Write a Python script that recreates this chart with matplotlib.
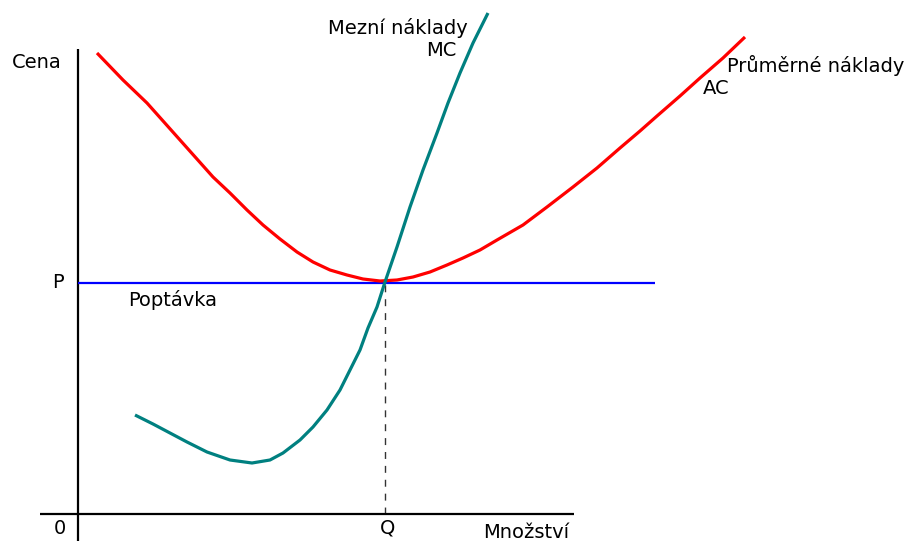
import matplotlib
matplotlib.use("Agg")
import matplotlib.pyplot as plt

# quantity / price (origin at the axis corner)
ac_q = [19, 45, 69, 102, 135, 152, 169, 185, 202, 219, 235, 252, 269, 285, 302, 319, 335, 352,
        369, 385, 402, 419, 445, 469, 495, 519, 542, 562, 579, 602, 622, 645, 667]
ac_p = [461, 434, 411, 374, 337, 321, 304, 289, 275, 262, 252, 244, 239, 235, 233, 234, 237, 242,
        249, 256, 264, 274, 289, 307, 327, 346, 366, 383, 398, 418, 436, 456, 477]

mc_q = [57, 75, 92, 109, 129, 152, 174, 192, 205, 222, 235, 249, 262, 272, 282, 290, 299,
        307, 319, 332, 345, 359, 370, 382, 395, 410]
mc_p = [99, 90, 81, 72, 62, 54, 51, 54, 61, 74, 87, 104, 124, 144, 164, 186, 207,
        232, 267, 307, 344, 381, 411, 441, 471, 501]

P = 231
Q = 307
demand_end = 577

plt.rcParams['font.family'] = ['DejaVu Sans']
fig = plt.figure(figsize=(9.18, 5.41), dpi=100)
ax = fig.add_axes([0, 0, 1, 1])
ax.set_xlim(-78, 840)
ax.set_ylim(-27, 514)
ax.axis('off')

# axes
ax.vlines(0, -27, 465, color='black', lw=1.6)
ax.hlines(0, -38, 496, color='black', lw=1.6)

# demand (price line) and dashed Q line
ax.hlines(P, 0, demand_end, color='#0000ff', lw=1.6, zorder=2)
ax.vlines(Q, 0, P, color='#333333', lw=1, linestyles=(0, (5, 5)), zorder=1)

# cost curves
ax.plot(ac_q, ac_p, color='#ff0000', lw=2.3, solid_capstyle='butt', solid_joinstyle='round', zorder=3)
ax.plot(mc_q, mc_p, color='#008080', lw=2.3, solid_capstyle='butt', solid_joinstyle='round', zorder=4)

fs = 14
ax.text(-66, 452, 'Cena', fontsize=fs, ha='left', va='center')
ax.text(-20, P, 'P', fontsize=fs, ha='center', va='center')
ax.text(-18, -15, '0', fontsize=fs, ha='center', va='center')
ax.text(Q + 3, -14, 'Q', fontsize=fs, ha='center', va='center')
ax.text(405, -19, 'Množství', fontsize=fs, ha='left', va='center')
ax.text(50, 214, 'Poptávka', fontsize=fs, ha='left', va='center')
ax.text(390, 486, 'Mezní náklady', fontsize=fs, ha='right', va='center')
ax.text(379, 464, 'MC', fontsize=fs, ha='right', va='center')
ax.text(649, 448, 'Průměrné náklady', fontsize=fs, ha='left', va='center')
ax.text(625, 425, 'AC', fontsize=fs, ha='left', va='center')

fig.savefig('out.png', dpi=100)
